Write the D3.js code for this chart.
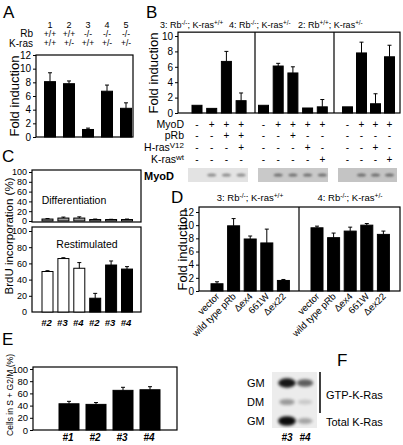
<!DOCTYPE html>
<html><head><meta charset="utf-8">
<script src="https://cdn.jsdelivr.net/npm/d3@7"></script>
<style>
body{margin:0;background:#fff;}
svg{display:block;font-family:"Liberation Sans",Arial,sans-serif;}
</style></head>
<body><svg id="fig" width="403" height="445"></svg>
<script>
// ---------------- DATA ----------------
// Panel A
const aLines = ["1","2","3","4","5"];
const aRb = ["+/+","+/+","-/-","-/-","-/-"];
const aKras = ["+/+","+/-","+/+","+/-","+/-"];
const aValues = [8.1, 7.8, 1.1, 6.7, 4.2];
const aErrors = [1.3, 0.4, 0.2, 0.9, 0.8];
const aTicks = [0,2,4,6,8,10,12];

// Panel B
const bTitles = [["3: Rb","-/-","; K-ras","+/+"],["4: Rb","-/-","; K-ras","+/-"],["2: Rb","+/+","; K-ras","+/-"]];
const bValues1 = [1.0, 0.6, 6.7, 1.6];
const bErrors1 = [0, 0, 1.3, 1.0];
const bValues2 = [1.0, 6.1, 5.2, 0.65, 0.8];
const bErrors2 = [0, 0.35, 0.8, 0, 0.95];
const bValues3 = [0.8, 7.8, 1.2, 7.3];
const bErrors3 = [0, 1.4, 1.3, 1.5];
const bRows = ["MyoD","pRb","H-ras","K-ras"];
const bMatrix1 = [["-","+","+","+"],["-","-","+","+"],["-","-","-","+"],["-","-","-","-"]];
const bMatrix2 = [["-","+","+","+","+"],["-","-","+","-","-"],["-","-","-","+","-"],["-","-","-","-","+"]];
const bMatrix3 = [["-","+","+","+"],["-","-","-","-"],["-","-","+","-"],["-","-","-","+"]];
const bTicks = [0,2,4,6,8,10];

// Panel C
const cLabels = ["#2","#3","#4","#2","#3","#4"];
const cSeries = ["s1","s1","s1","s2","s2","s2"];
const cDiff = [4, 6, 6, 3, 3, 3];
const cDiffErr = [1, 2, 2.5, 1, 0.5, 1];
const cRestim = [50, 66, 54, 17, 58, 53];
const cRestimErr = [1, 1, 7, 6, 5, 3];
const cTicks = [0,20,40,60,80,100];

// Panel D
const dCategories = ["vector","wild type pRb","\u0394ex4","661W","\u0394ex22"];
const dTitles = [["3: Rb","-/-","; K-ras","+/+"],["4: Rb","-/-","; K-ras","+/-"]];
const dValues1 = [1.1, 9.9, 7.9, 7.3, 1.6];
const dErrors1 = [0.3, 1.1, 0.45, 2.1, 0.15];
const dValues2 = [9.6, 8.1, 9.1, 10.0, 8.6];
const dErrors2 = [0.25, 0.7, 0.6, 0.25, 0.5];
const dTicks = [0,2,4,6,8,10,12];

// Panel E
const eLabels = ["#1","#2","#3","#4"];
const eValues = [43, 42, 65, 66];
const eErrors = [4, 3, 5, 5];
const eTicks = [0,20,40,60,80,100];

// Panel F
const fRows = ["GM","DM","GM"];
const fLanes = ["#3","#4"];
const fBandIntensity = [[0.9,0.6],[0.35,0.15],[0.95,0.3]];

// ---------------- HELPERS ----------------
const svg = d3.select("#fig");
svg.append("rect").attr("width",403).attr("height",445).attr("fill","#fff");
const defs = svg.append("defs");
defs.append("filter").attr("id","blur").attr("x","-50%").attr("y","-50%").attr("width","200%").attr("height","200%")
  .append("feGaussianBlur").attr("stdDeviation",1.4);
defs.append("filter").attr("id","blur2").attr("x","-20%").attr("y","-50%").attr("width","140%").attr("height","200%")
  .append("feGaussianBlur").attr("stdDeviation",0.8);

function band(domain, firstCenter, step, width){
  const p = 1 - width/step;
  return d3.scaleBand().domain(domain)
    .range([firstCenter - step/2, firstCenter - step/2 + domain.length*step])
    .paddingInner(p).paddingOuter(p/2);
}
function letter(t,x,y){
  svg.append("text").attr("x",x).attr("y",y).attr("font-size",17).text(t);
}
function box(x0,y0,x1,y1){
  svg.append("rect").attr("x",x0).attr("y",y0).attr("width",x1-x0).attr("height",y1-y0)
    .attr("fill","none").attr("stroke","#000").attr("stroke-width",1.2);
}
function yAxis(y, x, ticks, fs){
  const g = svg.append("g").attr("transform",`translate(${x},0)`)
    .call(d3.axisLeft(y).tickValues(ticks).tickSize(3).tickPadding(2));
  g.select(".domain").remove();
  g.selectAll("text").attr("font-size",fs).attr("font-family","Liberation Sans, Arial, sans-serif").attr("fill","#000");
  g.selectAll("line").attr("stroke","#000");
  return g;
}
function drawBars(keys, vals, errs, x, y, fillFn){
  const g = svg.append("g");
  const idx = d3.range(keys.length);
  g.selectAll("rect").data(idx).join("rect")
    .attr("x", i=>x(keys[i])).attr("width", x.bandwidth())
    .attr("y", i=>y(vals[i])).attr("height", i=>y(0)-y(vals[i]))
    .attr("fill", i=>fillFn(i)).attr("stroke","#000").attr("stroke-width",1);
  const eg = g.selectAll("g.err").data(idx.filter(i=>errs[i]>0)).join("g");
  eg.append("line")
    .attr("x1", i=>x(keys[i])+x.bandwidth()/2).attr("x2", i=>x(keys[i])+x.bandwidth()/2)
    .attr("y1", i=>y(vals[i])).attr("y2", i=>y(vals[i]+errs[i]))
    .attr("stroke","#000").attr("stroke-width",1);
  eg.append("line")
    .attr("x1", i=>x(keys[i])+x.bandwidth()/2-2).attr("x2", i=>x(keys[i])+x.bandwidth()/2+2)
    .attr("y1", i=>y(vals[i]+errs[i])).attr("y2", i=>y(vals[i]+errs[i]))
    .attr("stroke","#000").attr("stroke-width",1);
}
function supTitle(parts, x, y, fs, anchor){
  const t = svg.append("text").attr("x",x).attr("y",y).attr("font-size",fs).attr("text-anchor",anchor||"start");
  parts.forEach((p,i)=>{
    if(i%2===0) t.append("tspan").attr("dy", i===0?0:fs*0.35).attr("font-size",fs).text(p);
    else t.append("tspan").attr("dy",-fs*0.35).attr("font-size",fs*0.7).text(p);
  });
}
function rotLabel(t,x,y,fs){
  svg.append("text").attr("transform",`translate(${x},${y}) rotate(-90)`).attr("text-anchor","middle")
    .attr("dominant-baseline","central").attr("font-size",fs).text(t);
}

// ---------------- PANEL A ----------------
letter("A",3,18);
{
  const y = d3.scaleLinear().domain([0,12]).range([137,55]);
  const keys = aLines;
  const x = band(keys, 50, 19, 11);
  box(36,55,133,137);
  yAxis(y,36,aTicks,10);
  drawBars(keys,aValues,aErrors,x,y,()=>"#000");
  rotLabel("Fold induction",14,96,13);
  const cx = k=>x(k)+x.bandwidth()/2;
  svg.append("g").selectAll("text").data(aLines).join("text")
    .attr("x",d=>cx(d)).attr("y",28).attr("text-anchor","middle").attr("font-size",9).text(d=>d);
  svg.append("text").attr("x",33).attr("y",37).attr("text-anchor","end").attr("font-size",10).text("Rb");
  svg.append("text").attr("x",33).attr("y",47).attr("text-anchor","end").attr("font-size",10).text("K-ras");
  svg.append("g").selectAll("text").data(aRb).join("text")
    .attr("x",(d,i)=>cx(aLines[i])).attr("y",36.5).attr("text-anchor","middle").attr("font-size",8.5).text(d=>d);
  svg.append("g").selectAll("text").data(aKras).join("text")
    .attr("x",(d,i)=>cx(aLines[i])).attr("y",46).attr("text-anchor","middle").attr("font-size",8.5).text(d=>d);
}

// ---------------- PANEL B ----------------
letter("B",146,18);
{
  const y = d3.scaleLinear().domain([0,10]).range([113,36]);
  box(178,y(10.5),400,113);
  [255,334].forEach(xx=>svg.append("line").attr("x1",xx).attr("x2",xx).attr("y1",y(10.5)).attr("y2",113).attr("stroke","#000").attr("stroke-width",1.2));
  yAxis(y,178,bTicks,10);
  rotLabel("Fold induction",153,73,13);
  supTitle(bTitles[0],160,28,9);
  supTitle(bTitles[1],229,28,9);
  supTitle(bTitles[2],298,28,9);
  const secs = [
    {vals:bValues1, errs:bErrors1, mat:bMatrix1, c0:197, step:14.7, blot:[188,248], bg:"#e3e3e3", band:"#8a8a8a"},
    {vals:bValues2, errs:bErrors2, mat:bMatrix2, c0:263.5, step:14.7, blot:[258,328], bg:"#c9c9c9", band:"#6e6e6e"},
    {vals:bValues3, errs:bErrors3, mat:bMatrix3, c0:347.5, step:14, blot:[338,397], bg:"#c4c4c4", band:"#6a6a6a"}
  ];
  const rowY = [128,139,151,163];
  secs.forEach((s,si)=>{
    const keys = d3.range(s.vals.length).map(i=>"s"+si+"_"+i);
    const x = band(keys, s.c0, s.step, 10);
    drawBars(keys,s.vals,s.errs,x,y,()=>"#000");
    const cx = k=>x(k)+x.bandwidth()/2;
    s.mat.forEach((row,ri)=>{
      svg.append("g").selectAll("text").data(row).join("text")
        .attr("x",(d,i)=>cx(keys[i])).attr("y",rowY[ri]).attr("text-anchor","middle").attr("font-size",10).text(d=>d);
    });
    svg.append("rect").attr("x",s.blot[0]).attr("y",168).attr("width",s.blot[1]-s.blot[0]).attr("height",14)
      .attr("fill",s.bg);
    svg.append("g").selectAll("ellipse").data(keys.filter((k,i)=>s.mat[0][i]==="+")).join("ellipse")
      .attr("cx",k=>cx(k)).attr("cy",175).attr("rx",4.5).attr("ry",1.6).attr("fill",s.band).attr("filter","url(#blur2)");
  });
  svg.append("text").attr("x",184).attr("y",rowY[0]).attr("text-anchor","end").attr("font-size",10.5).text("MyoD");
  svg.append("text").attr("x",184).attr("y",rowY[1]).attr("text-anchor","end").attr("font-size",10.5).text("pRb");
  const h = svg.append("text").attr("x",184).attr("y",rowY[2]).attr("text-anchor","end").attr("font-size",10.5);
  h.append("tspan").text("H-ras"); h.append("tspan").attr("dy",-3).attr("font-size",8).text("V12");
  const k = svg.append("text").attr("x",184).attr("y",rowY[3]).attr("text-anchor","end").attr("font-size",10.5);
  k.append("tspan").text("K-ras"); k.append("tspan").attr("dy",-3).attr("font-size",8).text("wt");
  svg.append("text").attr("x",144).attr("y",180).attr("font-size",11).attr("font-weight","bold").text("MyoD");
}

// ---------------- PANEL C ----------------
letter("C",2,162);
{
  const keys = d3.range(cLabels.length).map(i=>"c"+i);
  const x = band(keys, 47.5, 15.9, 11);
  const fills = {s1:"#fff", s2:"#000"};
  const y1 = d3.scaleLinear().domain([0,100]).range([221,172]);
  box(32,170,141,222);
  yAxis(y1,32,cTicks,9);
  drawBars(keys,cDiff,cDiffErr,x,y1,()=>"#9a9a9a");
  svg.append("text").attr("x",74).attr("y",204).attr("text-anchor","middle").attr("font-size",10.5).text("Differentiation");
  const y2 = d3.scaleLinear().domain([0,100]).range([312,231]);
  box(32,227,141,312);
  yAxis(y2,32,cTicks.filter(t=>t>0),9);
  svg.append("text").attr("x",27).attr("y",312).attr("dy","0.32em").attr("text-anchor","end").attr("font-size",9).text("0");
  drawBars(keys,cRestim,cRestimErr,x,y2,i=>fills[cSeries[i]]);
  svg.append("text").attr("x",87).attr("y",248).attr("text-anchor","middle").attr("font-size",10.5).text("Restimulated");
  svg.append("g").selectAll("text").data(cLabels).join("text")
    .attr("x",(d,i)=>x(keys[i])+x.bandwidth()/2-1).attr("y",326).attr("text-anchor","middle")
    .attr("font-size",9.5).attr("font-style","italic").attr("font-weight","bold").text(d=>d);
  rotLabel("BrdU incorporation (%)",9,236,11.5);
}

// ---------------- PANEL D ----------------
letter("D",171,203);
{
  const y = d3.scaleLinear().domain([0,12]).range([291,212]);
  box(199,207,400,291);
  svg.append("line").attr("x1",299).attr("x2",299).attr("y1",207).attr("y2",291).attr("stroke","#000").attr("stroke-width",1.2);
  yAxis(y,199,dTicks,10);
  rotLabel("Fold induction",182,250,13);
  supTitle(dTitles[0],250,201,9.5,"middle");
  supTitle(dTitles[1],350,201,9.5,"middle");
  [[dValues1,dErrors1,217],[dValues2,dErrors2,317]].forEach(([vals,errs,c0],si)=>{
    const keys = dCategories.map(c=>si+"_"+c);
    const x = band(keys, c0, 16.6, 12);
    drawBars(keys,vals,errs,x,y,()=>"#000");
    svg.append("g").selectAll("text").data(dCategories).join("text")
      .attr("transform",(d,i)=>`translate(${x(keys[i])+x.bandwidth()/2+3},297) rotate(-45)`)
      .attr("text-anchor","end").attr("font-size",9.5).text(d=>d);
  });
}

// ---------------- PANEL E ----------------
letter("E",2,345);
{
  const y = d3.scaleLinear().domain([0,100]).range([430,369]);
  const x = band(eLabels, 69, 27, 20);
  box(33,367,177,430);
  yAxis(y,33,eTicks,9.5);
  drawBars(eLabels,eValues,eErrors,x,y,()=>"#000");
  svg.append("g").selectAll("text").data(eLabels).join("text")
    .attr("x",d=>x(d)+x.bandwidth()/2-1).attr("y",441).attr("text-anchor","middle")
    .attr("font-size",10).attr("font-style","italic").attr("font-weight","bold").text(d=>d);
  rotLabel("Cells in S + G2/M (%)",10,395,8.5);
}

// ---------------- PANEL F ----------------
letter("F",337,366);
{
  const laneX = d3.scalePoint().domain(fLanes).range([287,305]);
  const rowY = d3.scalePoint().domain(d3.range(fRows.length)).range([383,421]);
  svg.append("rect").attr("x",272).attr("y",372).attr("width",45).attr("height",56).attr("fill","#ececec");
  fRows.forEach((r,ri)=>{
    svg.append("text").attr("x",247).attr("y",rowY(ri)+4).attr("font-size",11).text(r);
    fLanes.forEach((l,li)=>{
      const v = fBandIntensity[ri][li];
      svg.append("ellipse").attr("cx",laneX(l)).attr("cy",rowY(ri)).attr("rx",7+2*v).attr("ry",2+3*v)
        .attr("fill","#000").attr("opacity",v).attr("filter","url(#blur)");
    });
  });
  svg.append("line").attr("x1",320).attr("x2",320).attr("y1",372).attr("y2",413).attr("stroke","#000").attr("stroke-width",1.5);
  svg.append("text").attr("x",326).attr("y",399).attr("font-size",11).text("GTP-K-Ras");
  svg.append("text").attr("x",326).attr("y",426).attr("font-size",11).text("Total K-Ras");
  svg.append("g").selectAll("text").data(fLanes).join("text")
    .attr("x",d=>laneX(d)).attr("y",441).attr("text-anchor","middle")
    .attr("font-size",10).attr("font-style","italic").attr("font-weight","bold").text(d=>d);
}
</script></body></html>
